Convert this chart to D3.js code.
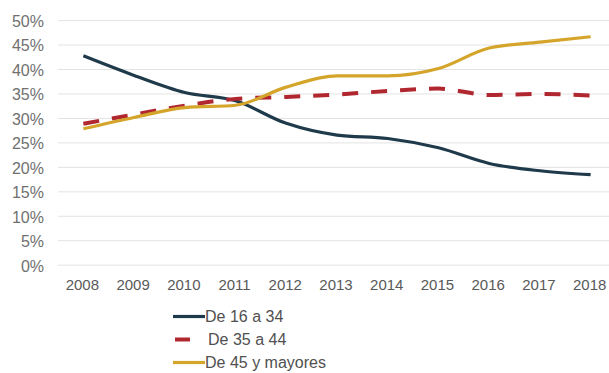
<!DOCTYPE html>
<html>
<head>
<meta charset="utf-8">
<script src="https://cdn.jsdelivr.net/npm/d3@7/dist/d3.min.js"></script>
<style>
  html, body { margin: 0; padding: 0; background: #fff; }
  svg { display: block; }
  text { font-family: "Liberation Sans", Arial, sans-serif; }
</style>
</head>
<body>
<svg id="chart" width="609" height="373"></svg>
<script>
// Share of each age group, 2008–2018 (%)
const years = ["2008","2009","2010","2011","2012","2013","2014","2015","2016","2017","2018"];
const de16a34 = [42.8, 38.8, 35.3, 33.6, 29.0, 26.6, 25.9, 24.0, 20.8, 19.3, 18.5];
const de35a44 = [28.9, 30.8, 32.6, 34.0, 34.4, 34.9, 35.6, 36.1, 34.8, 35.0, 34.7];
const de45ymas = [27.9, 30.2, 32.2, 32.7, 36.4, 38.7, 38.7, 40.2, 44.4, 45.6, 46.7];
const yTicks = [0, 5, 10, 15, 20, 25, 30, 35, 40, 45, 50];
const seriesNames = ["De 16 a 34", "De 35 a 44", "De 45 y mayores"];

const series = [
  { name: seriesNames[0], values: de16a34, color: "#1f3a4a", width: 3.2, dash: null },
  { name: seriesNames[1], values: de35a44, color: "#b1272f", width: 4, dash: "16,13" },
  { name: seriesNames[2], values: de45ymas, color: "#d4a52a", width: 3.2, dash: null }
];

const svg = d3.select("#chart");
const plot = { left: 58, right: 616, top: 20.6, bottom: 265.2 };

const x = d3.scaleBand().domain(years).range([plot.left, plot.right]);
const xc = d => x(d) + x.bandwidth() / 2;
const y = d3.scaleLinear().domain([0, 50]).range([plot.bottom, plot.top]);

// Horizontal gridlines
svg.append("g")
  .selectAll("line")
  .data(yTicks)
  .join("line")
  .attr("x1", plot.left).attr("x2", 609)
  .attr("y1", d => y(d)).attr("y2", d => y(d))
  .attr("stroke", "#e3e3e3").attr("stroke-width", 1);

// Y axis labels
const yAxis = d3.axisLeft(y).tickValues(yTicks).tickFormat(d => d + "%").tickSize(0).tickPadding(0);
svg.append("g")
  .attr("transform", `translate(44,0.8)`)
  .call(yAxis)
  .call(g => g.select(".domain").remove())
  .call(g => g.selectAll("text").attr("fill", "#707070").attr("font-size", 16));

// X axis labels
const xAxis = d3.axisBottom(x).tickSize(0).tickPadding(0);
svg.append("g")
  .attr("transform", `translate(-1,${plot.bottom + 14})`)
  .call(xAxis)
  .call(g => g.select(".domain").remove())
  .call(g => g.selectAll("text").attr("fill", "#595959").attr("font-size", 15));

// Series lines
const line = d3.line()
  .x((d, i) => xc(years[i]))
  .y(d => y(d))
  .curve(d3.curveMonotoneX);

svg.append("g")
  .selectAll("path")
  .data(series)
  .join("path")
  .attr("d", s => line(s.values))
  .attr("fill", "none")
  .attr("stroke", s => s.color)
  .attr("stroke-width", s => s.width)
  .attr("stroke-dasharray", s => s.dash)
  .attr("stroke-linejoin", "round");

// Legend
const legend = svg.append("g");
const legendRows = legend.selectAll("g")
  .data(series)
  .join("g")
  .attr("transform", (d, i) => `translate(0,${316.5 + i * 23})`);

legendRows.append("line")
  .attr("x1", d => d.dash ? 175 : 173)
  .attr("x2", d => d.dash ? 190 : 205)
  .attr("y1", 0).attr("y2", 0)
  .attr("stroke", d => d.color)
  .attr("stroke-width", d => d.dash ? 4 : 3.2);

legendRows.append("text")
  .attr("x", d => d.dash ? 208 : 205)
  .attr("y", 0)
  .attr("dy", "0.35em")
  .attr("fill", "#505050")
  .attr("font-size", 16)
  .text(d => d.name);
</script>
</body>
</html>
